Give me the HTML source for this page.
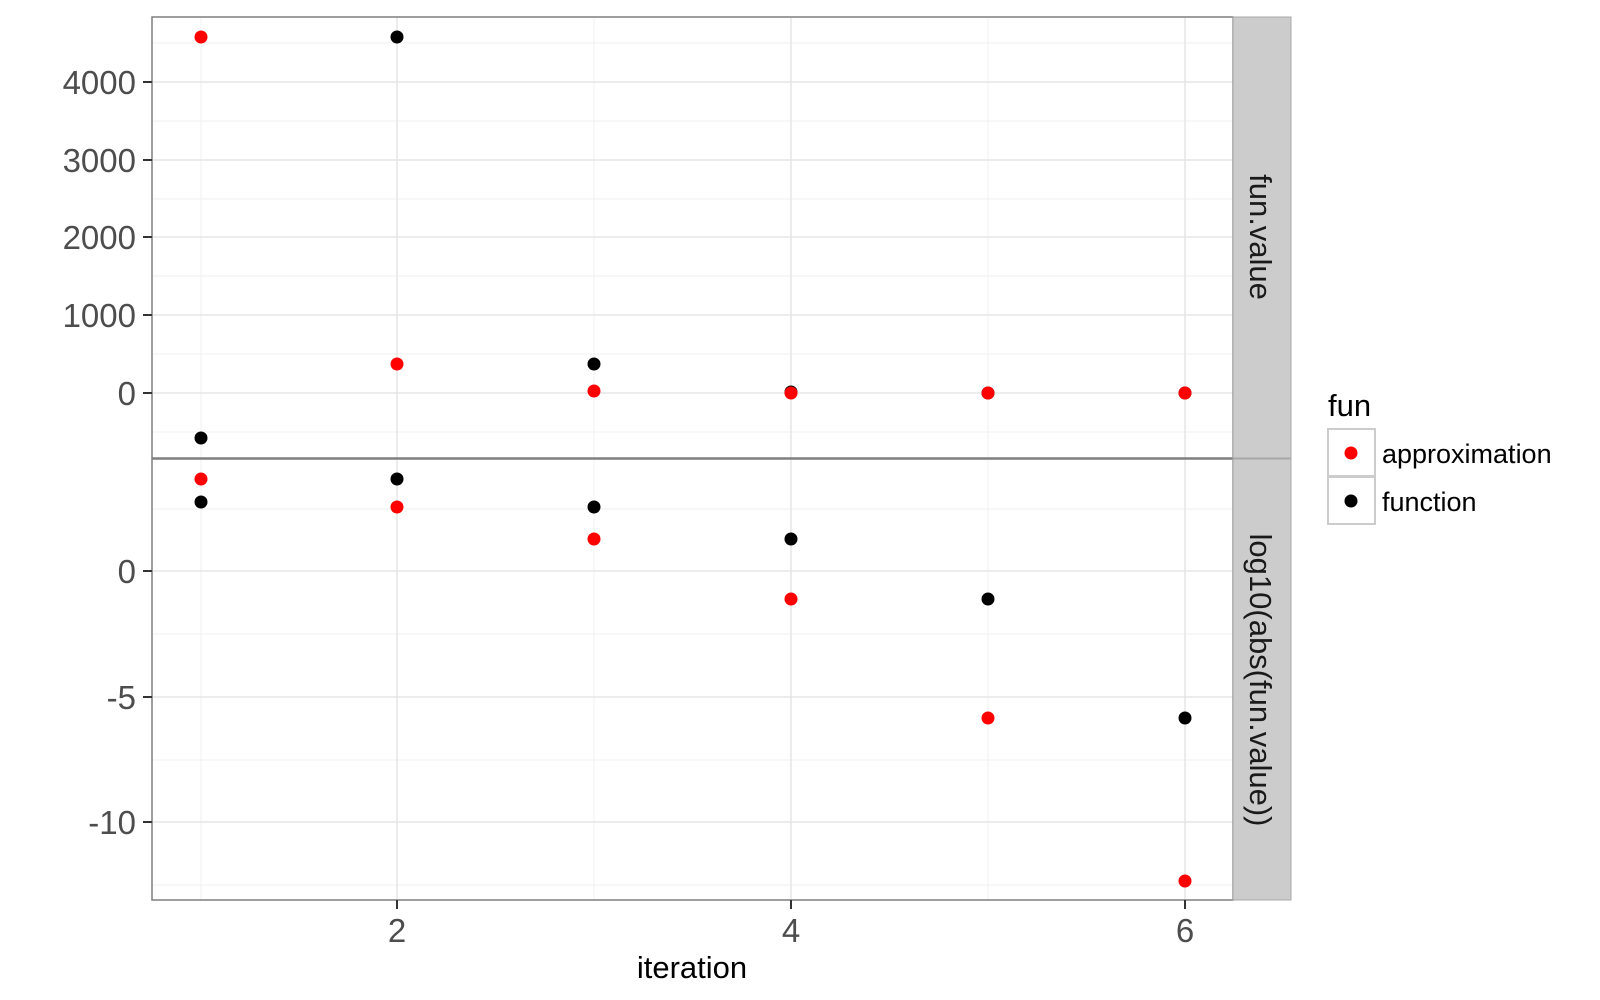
<!DOCTYPE html>
<html><head><meta charset="utf-8"><style>body{margin:0;background:#fff}svg{display:block}</style></head><body>
<svg width="1600" height="1000" xmlns="http://www.w3.org/2000/svg" font-family="Liberation Sans, sans-serif">
<rect width="1600" height="1000" fill="#fff"/>
<g stroke="#f2f2f2" stroke-width="1.2">
<line x1="152" x2="1233" y1="432" y2="432"/><line x1="152" x2="1233" y1="354" y2="354"/><line x1="152" x2="1233" y1="276" y2="276"/><line x1="152" x2="1233" y1="199" y2="199"/><line x1="152" x2="1233" y1="121" y2="121"/><line x1="152" x2="1233" y1="43" y2="43"/>
<line x1="201" x2="201" y1="17" y2="458"/><line x1="594" x2="594" y1="17" y2="458"/><line x1="988" x2="988" y1="17" y2="458"/>
<line x1="152" x2="1233" y1="634" y2="634"/><line x1="152" x2="1233" y1="509" y2="509"/><line x1="152" x2="1233" y1="760" y2="760"/><line x1="152" x2="1233" y1="885" y2="885"/>
<line x1="201" x2="201" y1="460" y2="900"/><line x1="594" x2="594" y1="460" y2="900"/><line x1="988" x2="988" y1="460" y2="900"/>
</g>
<g stroke="#e5e5e5" stroke-width="1.5">
<line x1="152" x2="1233" y1="393" y2="393"/><line x1="152" x2="1233" y1="315" y2="315"/><line x1="152" x2="1233" y1="237" y2="237"/><line x1="152" x2="1233" y1="160" y2="160"/><line x1="152" x2="1233" y1="82" y2="82"/>
<line x1="397" x2="397" y1="17" y2="458"/><line x1="791" x2="791" y1="17" y2="458"/><line x1="1185" x2="1185" y1="17" y2="458"/>
<line x1="152" x2="1233" y1="571" y2="571"/><line x1="152" x2="1233" y1="697" y2="697"/><line x1="152" x2="1233" y1="822" y2="822"/>
<line x1="397" x2="397" y1="460" y2="900"/><line x1="791" x2="791" y1="460" y2="900"/><line x1="1185" x2="1185" y1="460" y2="900"/>
</g>
<rect x="152" y="17" width="1081" height="441" fill="none" stroke="#7f7f7f" stroke-width="1.5"/>
<rect x="152" y="459" width="1081" height="441" fill="none" stroke="#7f7f7f" stroke-width="1.5"/>
<rect x="1233" y="17" width="58" height="441" fill="#cccccc" stroke="#a8a8a8" stroke-width="1"/>
<rect x="1233" y="459" width="58" height="441" fill="#cccccc" stroke="#a8a8a8" stroke-width="1"/>
<text transform="translate(1250,237) rotate(90)" text-anchor="middle" font-size="31" fill="#1a1a1a">fun.value</text>
<text transform="translate(1250,680) rotate(90)" text-anchor="middle" font-size="31" fill="#1a1a1a">log10(abs(fun.value))</text>
<g stroke="#333" stroke-width="2">
<line x1="143" x2="152" y1="82" y2="82"/><line x1="143" x2="152" y1="160" y2="160"/><line x1="143" x2="152" y1="237" y2="237"/><line x1="143" x2="152" y1="315" y2="315"/><line x1="143" x2="152" y1="393" y2="393"/>
<line x1="143" x2="152" y1="571" y2="571"/><line x1="143" x2="152" y1="697" y2="697"/><line x1="143" x2="152" y1="822" y2="822"/>
<line x1="397" x2="397" y1="900" y2="909"/><line x1="791" x2="791" y1="900" y2="909"/><line x1="1185" x2="1185" y1="900" y2="909"/>
</g>
<g font-size="33" fill="#4d4d4d" text-anchor="end">
<text x="136" y="94">4000</text><text x="136" y="172">3000</text><text x="136" y="249">2000</text><text x="136" y="327">1000</text><text x="136" y="405">0</text>
<text x="136" y="583">0</text><text x="136" y="709">-5</text><text x="136" y="834">-10</text>
</g>
<g font-size="33" fill="#4d4d4d" text-anchor="middle">
<text x="397" y="942">2</text><text x="791" y="942">4</text><text x="1185" y="942">6</text>
</g>
<text x="692" y="978" font-size="31" fill="#000" text-anchor="middle">iteration</text>
<g fill="#000">
<circle cx="201" cy="438" r="6.5"/><circle cx="397" cy="37" r="6.5"/><circle cx="594" cy="364" r="6.5"/><circle cx="791" cy="392" r="6.5"/><circle cx="988" cy="393" r="6.5"/><circle cx="1185" cy="393" r="6.5"/>
<circle cx="201" cy="502" r="6.5"/><circle cx="397" cy="479" r="6.5"/><circle cx="594" cy="507" r="6.5"/><circle cx="791" cy="539" r="6.5"/><circle cx="988" cy="599" r="6.5"/><circle cx="1185" cy="718" r="6.5"/>
</g>
<g fill="#ff0000">
<circle cx="201" cy="37" r="6.5"/><circle cx="397" cy="364" r="6.5"/><circle cx="594" cy="391" r="6.5"/><circle cx="791" cy="393" r="6.5"/><circle cx="988" cy="393" r="6.5"/><circle cx="1185" cy="393" r="6.5"/>
<circle cx="201" cy="479" r="6.5"/><circle cx="397" cy="507" r="6.5"/><circle cx="594" cy="539" r="6.5"/><circle cx="791" cy="599" r="6.5"/><circle cx="988" cy="718" r="6.5"/><circle cx="1185" cy="881" r="6.5"/>
</g>
<text x="1328" y="416" font-size="31" fill="#000">fun</text>
<rect x="1328" y="429" width="47" height="47" fill="#fff" stroke="#cccccc" stroke-width="2"/>
<rect x="1328" y="477" width="47" height="47" fill="#fff" stroke="#cccccc" stroke-width="2"/>
<circle cx="1351" cy="453" r="6.5" fill="#ff0000"/>
<circle cx="1351" cy="501" r="6.5" fill="#000"/>
<text x="1382" y="463" font-size="27" fill="#000">approximation</text>
<text x="1382" y="511" font-size="27" fill="#000">function</text>
</svg>
</body></html>
